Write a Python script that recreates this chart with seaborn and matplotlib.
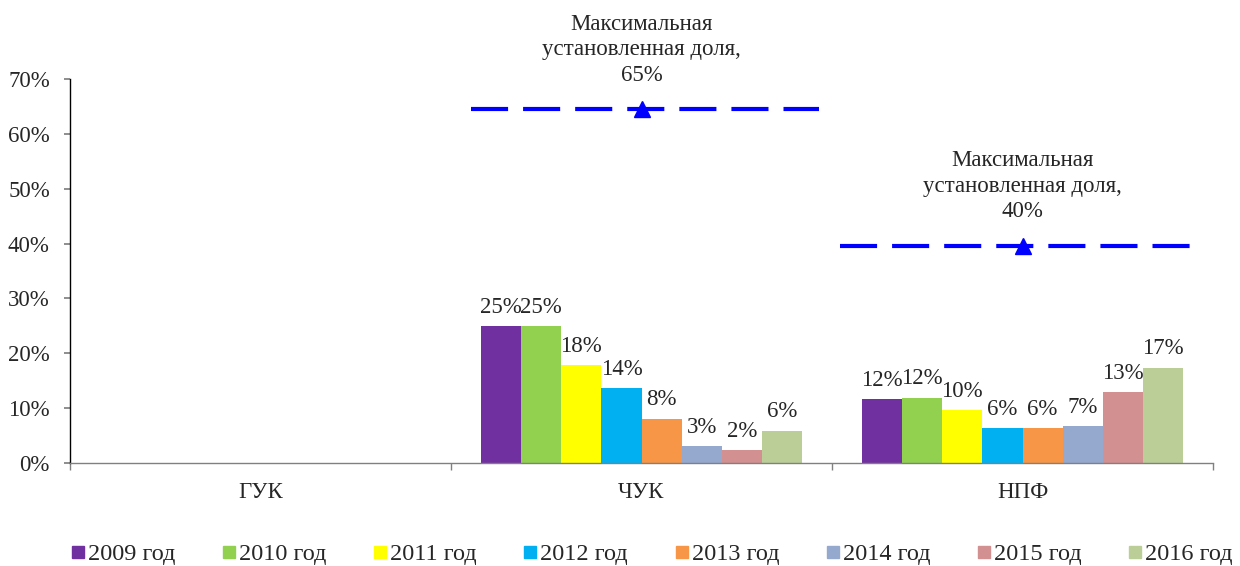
import matplotlib
matplotlib.use("Agg")
import matplotlib.pyplot as plt
import seaborn as sns
import pandas as pd
import numpy as np
from matplotlib.lines import Line2D
from matplotlib.ticker import FuncFormatter

categories = ["ГУК", "ЧУК", "НПФ"]
years = ["2009 год", "2010 год", "2011 год", "2012 год",
         "2013 год", "2014 год", "2015 год", "2016 год"]
share_guk = [0, 0, 0, 0, 0, 0, 0, 0]
share_chuk = [25.0, 25.0, 17.8, 13.7, 8.1, 3.1, 2.4, 5.9]
share_npf = [11.6, 11.9, 9.6, 6.3, 6.4, 6.7, 12.9, 17.4]
max_share_cat = ["ЧУК", "НПФ"]
max_share_val = [64.5, 39.6]
max_share_text = ["Максимальная\nустановленная доля,\n65%",
                  "Максимальная\nустановленная доля,\n40%"]
colors = ["#7030A0", "#92D050", "#FFFF00", "#00B0F0",
          "#F79646", "#95A9CF", "#D39090", "#BBCE98"]
# horizontal extent of each limit line relative to category centre
line_extent = [(-0.447, 0.466), (-0.479, 0.442)]

rows = []
for cat, vals in zip(categories, [share_guk, share_chuk, share_npf]):
    for y, v in zip(years, vals):
        rows.append({"cat": cat, "year": y, "val": v})
df = pd.DataFrame(rows)

sns.set_theme(style="white")
plt.rcParams["font.family"] = ["Liberation Serif", "DejaVu Serif"]
FS = 16.5

fig = plt.figure(figsize=(12.4, 5.66), dpi=100)
ax = fig.add_axes([70/1240, 1-463/566, (1213-70)/1240, (463-79)/566])

palette = dict(zip(years, colors))
sns.barplot(data=df, x="cat", y="val", hue="year", order=categories,
            hue_order=years, palette=palette, width=0.842, gap=0,
            errorbar=None, linewidth=0, saturation=1, ax=ax, legend=False)

for cont in ax.containers:
    labels = []
    for b in cont:
        h = b.get_height()
        labels.append("" if (np.isnan(h) or h == 0) else f"{h:.0f}%")
    ax.bar_label(cont, labels=labels, padding=6, fontsize=FS)

cat_pos = {c: i for i, c in enumerate(categories)}
for c, v, t, (e0, e1) in zip(max_share_cat, max_share_val, max_share_text,
                             line_extent):
    xc = cat_pos[c]
    ax.plot([xc + e0, xc + e1], [v, v], color="#0000FF", lw=3,
            dashes=(8.9, 3.6), solid_capstyle="butt", dash_capstyle="butt")
    ax.plot([xc], [v], marker="^", color="#0000FF", markersize=11)
    ax.annotate(t, xy=(xc, v), xytext=(0, 17), textcoords="offset points",
                ha="center", va="bottom", fontsize=FS, linespacing=1.28)

ax.set_xlim(-0.5, 2.5)
ax.set_ylim(0, 70)
ax.set_yticks(np.arange(0, 71, 10))
ax.yaxis.set_major_formatter(FuncFormatter(lambda v, p: f"{v:.0f}%"))
ax.set_xticks([0, 1, 2])
ax.set_xticklabels(categories)
ax.set_xticks([-0.5, 0.5, 1.5, 2.5], minor=True)
ax.tick_params(axis="x", which="major", length=0, pad=14, labelsize=FS)
ax.tick_params(axis="x", which="minor", length=5, direction="out",
               color="#808080", bottom=True)
ax.tick_params(axis="y", length=4.5, direction="out", color="#808080",
               left=True, labelsize=FS, pad=10)
ax.set_xlabel("")
ax.set_ylabel("")
for s in ["top", "right"]:
    ax.spines[s].set_visible(False)
ax.spines["left"].set_color("#000000")
ax.spines["left"].set_linewidth(1)
ax.spines["bottom"].set_color("#808080")
ax.spines["bottom"].set_linewidth(1)
ax.grid(False)

handles = [Line2D([], [], marker="s", linestyle="none", markersize=8.6,
                  markerfacecolor=c, markeredgecolor=c) for c in colors]
fig.legend(handles, years, loc="lower center", ncol=8, frameon=False,
           bbox_to_anchor=(0.5246, -0.037), fontsize=17.5, handletextpad=0.0,
           columnspacing=1.82, handlelength=0.8)

fig.savefig("out.png", dpi=100)
